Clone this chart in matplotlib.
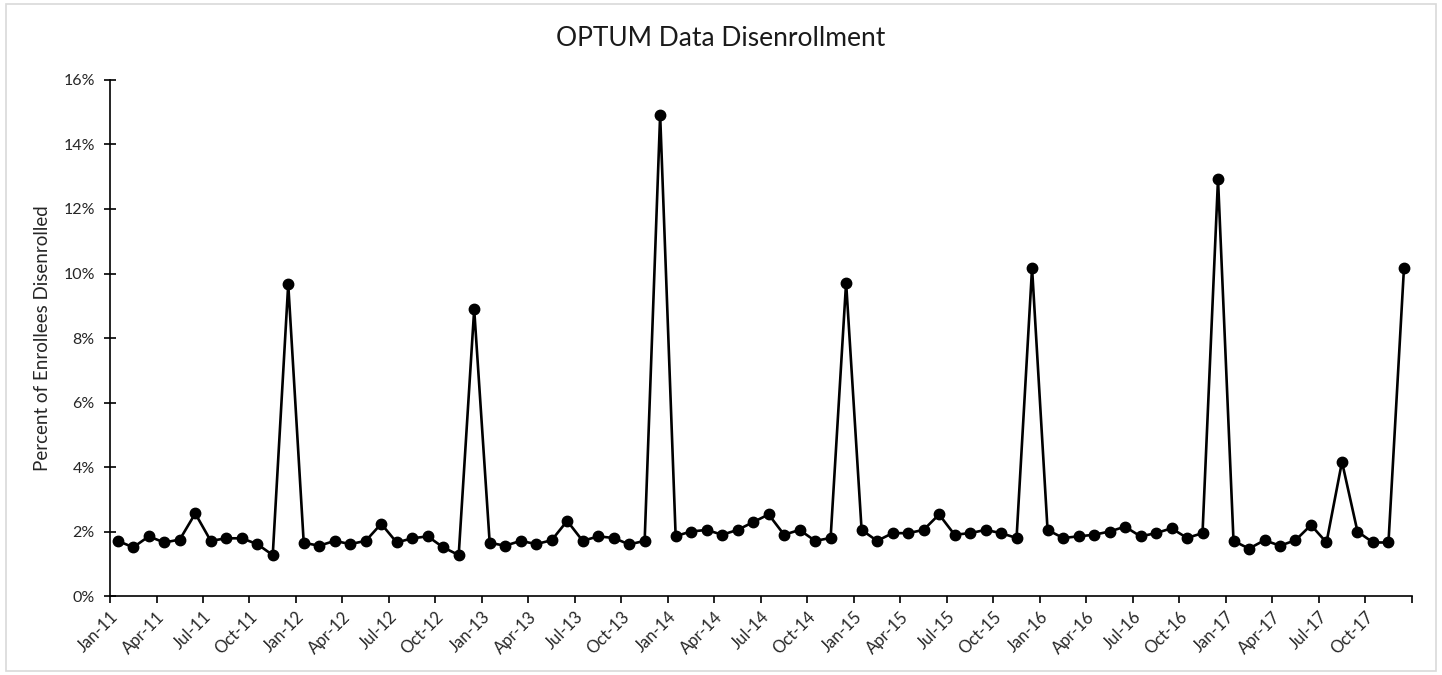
import matplotlib
matplotlib.use("Agg")
import matplotlib.pyplot as plt
from matplotlib.patches import Rectangle
import numpy as np

plt.rcParams['font.family'] = ['Lato', 'DejaVu Sans']

years = ['11', '12', '13', '14', '15', '16', '17']
months = ['Jan', 'Feb', 'Mar', 'Apr', 'May', 'Jun',
          'Jul', 'Aug', 'Sep', 'Oct', 'Nov', 'Dec']

# percent disenrolled per month, Jan-11 .. Dec-17
rate_2011 = [1.71, 1.51, 1.85, 1.66, 1.75, 2.56, 1.71, 1.79, 1.79, 1.61, 1.27, 9.67]
rate_2012 = [1.65, 1.56, 1.71, 1.61, 1.71, 2.24, 1.66, 1.79, 1.85, 1.51, 1.27, 8.89]
rate_2013 = [1.65, 1.56, 1.71, 1.61, 1.73, 2.33, 1.71, 1.85, 1.80, 1.60, 1.71, 14.92]
rate_2014 = [1.86, 2.00, 2.05, 1.90, 2.05, 2.29, 2.53, 1.90, 2.05, 1.71, 1.80, 9.72]
rate_2015 = [2.05, 1.71, 1.95, 1.95, 2.05, 2.53, 1.90, 1.95, 2.05, 1.95, 1.80, 10.17]
rate_2016 = [2.05, 1.80, 1.85, 1.90, 2.00, 2.15, 1.85, 1.95, 2.10, 1.80, 1.95, 12.93]
rate_2017 = [1.71, 1.47, 1.73, 1.56, 1.73, 2.20, 1.66, 4.16, 2.00, 1.66, 1.66, 10.17]

rates = rate_2011 + rate_2012 + rate_2013 + rate_2014 + rate_2015 + rate_2016 + rate_2017
labels = [m + '-' + y for y in years for m in months]

fig = plt.figure(figsize=(14.42, 6.75), dpi=100)
fig.patches.append(Rectangle((0.004, 0.006), 0.992, 0.988, transform=fig.transFigure,
                             fill=False, edgecolor='#d9d9d9', linewidth=1.2))
ax = fig.add_axes([0.0763, 0.117, 0.9027, 0.7645])

x = np.arange(len(rates))
ax.plot(x, rates, color='black', linewidth=1.9, marker='o', markersize=7.5,
        markerfacecolor='black', markeredgecolor='black')

ax.set_xlim(-0.5, len(rates) - 0.5)
ax.set_ylim(0, 16)
ax.set_yticks(np.arange(0, 17, 2))
ax.set_yticklabels(['%d%%' % v for v in range(0, 17, 2)], fontsize=11.5, color='#262626')

# ticks at month boundaries every quarter, plus the closing tick
tick_pos = [i - 0.5 for i in range(0, len(rates), 3)] + [len(rates) - 0.5]
tick_lab = [labels[i] for i in range(0, len(rates), 3)] + ['']
ax.set_xticks(tick_pos)
ax.set_xticklabels(tick_lab, rotation=45, ha='right', rotation_mode='anchor',
                   fontsize=12, color='#262626')

ax.tick_params(axis='y', direction='inout', length=8, width=1.2, pad=7)
ax.tick_params(axis='x', direction='out', length=5, width=1.2, pad=4)

for s in ['top', 'right']:
    ax.spines[s].set_visible(False)
for s in ['left', 'bottom']:
    ax.spines[s].set_linewidth(1.2)

ax.set_ylabel('Percent of Enrollees Disenrolled', fontsize=13.5, color='#262626', va='center')
ax.yaxis.set_label_coords(-0.0522, 0.5)
fig.text(0.5, 1 - 38 / 675, 'OPTUM Data Disenrollment', fontsize=19,
         ha='center', va='center', color='#1a1a1a')

fig.savefig('out.png', dpi=100)
